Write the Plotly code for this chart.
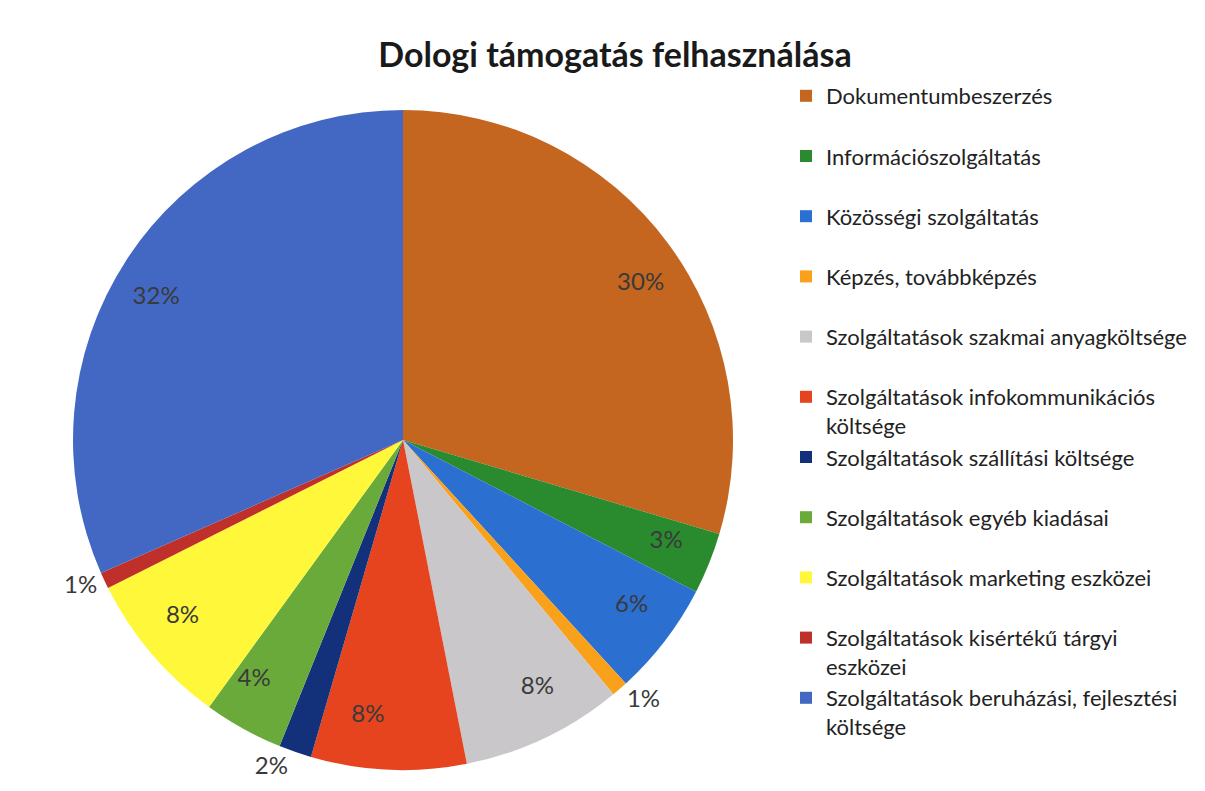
import plotly.graph_objects as go

categories = [
    "Dokumentumbeszerzés",
    "Információszolgáltatás",
    "Közösségi szolgáltatás",
    "Képzés, továbbképzés",
    "Szolgáltatások szakmai anyagköltsége",
    "Szolgáltatások infokommunikációs<br>költsége",
    "Szolgáltatások szállítási költsége",
    "Szolgáltatások egyéb kiadásai",
    "Szolgáltatások marketing eszközei",
    "Szolgáltatások kisértékű tárgyi<br>eszközei",
    "Szolgáltatások beruházási, fejlesztési<br>költsége",
]
values = [29.6, 3.0, 5.6, 0.8, 7.9, 7.6, 1.6, 3.9, 7.6, 0.8, 31.6]
colors = ["#C4661F", "#2A8A2E", "#2B6FD1", "#F9A11B", "#C9C7C9", "#E5441E",
          "#12317A", "#6AAA3A", "#FFF83A", "#C0302A", "#4268C4"]
# which labels sit outside the pie (small slices) vs. near the rim inside
outside_label = [False, False, False, True, False, False,
                 True, False, False, True, False]

# legend entries: every entry takes two text lines, as in the reference
legend_names = [c if "<br>" in c else c + "<br> " for c in categories]

W, H = 1197, 783  # page body has an 8px margin
FONT = "Lato"

def dom(cx, cy, r):
    return dict(x=[(cx - r) / W, (cx + r) / W],
                y=[1 - (cy + r) / H, 1 - (cy - r) / H])

CX, CY, R = 395, 432, 330

fig = go.Figure()
fig.add_trace(go.Pie(
    labels=legend_names,
    values=values,
    sort=False,
    direction="clockwise",
    rotation=0,
    marker=dict(colors=colors, line=dict(width=0)),
    texttemplate=["%{percent:.0%}" if o else "" for o in outside_label],
    textposition="outside",
    outsidetextfont=dict(family=FONT, size=24, color="#3a3a3a"),
    domain=dom(CX, CY, R),
    hoverinfo="label+percent",
))
# transparent helper pie to place in-slice labels near the rim
fig.add_trace(go.Pie(
    labels=legend_names,
    values=values,
    sort=False,
    direction="clockwise",
    rotation=0,
    marker=dict(colors=["rgba(0,0,0,0)"] * len(values), line=dict(width=0)),
    texttemplate=["" if o else "%{percent:.0%}" for o in outside_label],
    textposition="outside",
    outsidetextfont=dict(family=FONT, size=24, color="#3a3a3a"),
    domain=dom(CX, CY, 258),
    showlegend=False,
    hoverinfo="skip",
))

fig.update_layout(
    width=W, height=H,
    paper_bgcolor="white",
    margin=dict(l=0, r=0, t=0, b=0),
    title=dict(text="<b>Dologi támogatás felhasználása</b>",
               x=607 / W, xanchor="center", y=1 - 47 / H, yanchor="middle",
               font=dict(family=FONT, size=34, color="#1a1a1a")),
    legend=dict(x=778 / W, xanchor="left", y=1 - 67 / H, yanchor="top",
                font=dict(family=FONT, size=22, color="#222222"),
                valign="top", itemwidth=30),
    showlegend=True,
)

fig.write_html("out.html")
